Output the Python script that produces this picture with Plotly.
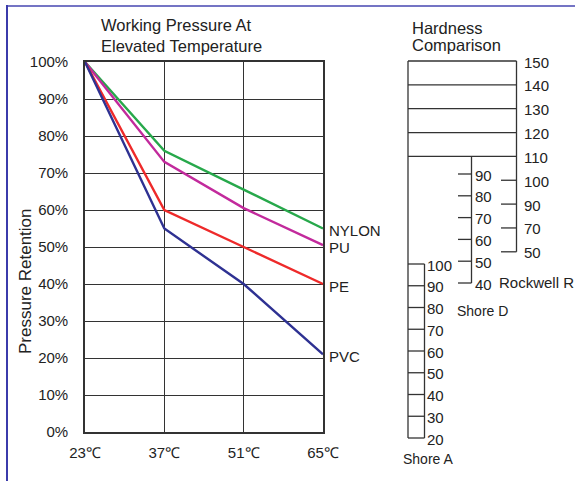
import plotly.graph_objects as go

# ---------------- data ----------------
temps = [23, 37, 51, 65]
temp_labels = ["23℃", "37℃", "51℃", "65℃"]
nylon = [100, 76, 65.5, 55]
pu = [100, 73, 60.5, 50.5]
pe = [100, 60, 50, 40]
pvc = [100, 55, 40, 21]
y_ticks = [0, 10, 20, 30, 40, 50, 60, 70, 80, 90, 100]
y_tick_labels = [f"{v}%" for v in y_ticks]

rockwell_r = [150, 140, 130, 120, 110, 100, 90, 70, 50]
shore_d = [90, 80, 70, 60, 50, 40]
shore_a = [100, 90, 80, 70, 60, 50, 40, 30, 20]

series = [
    ("NYLON", nylon, "#27a84b"),
    ("PU", pu, "#c22a9c"),
    ("PE", pe, "#ee2a2a"),
    ("PVC", pvc, "#2e3192"),
]

W, H = 575, 481
FONT = "Liberation Sans, Arial, sans-serif"
NARROW = "Liberation Sans Narrow, Arial Narrow, Liberation Sans, Arial, sans-serif"
TXT = "#222222"

fig = go.Figure()

for name, vals, col in series:
    fig.add_trace(go.Scatter(x=temps, y=vals, mode="lines", name=name,
                             line=dict(color=col, width=2.4),
                             xaxis="x", yaxis="y", hoverinfo="skip"))

# ---------- hardness comparison diagram (pixel-space axes) ----------
x_left, x_a, x_d, x_rt, x_r0 = 408, 424.5, 471.5, 516.5, 501
d_tick0 = 458
r_y0, r_step = 61, 23.85
d_y0, d_step = 174, 21.8
a_y0, a_step = 264, 21.75

r_pos = [r_y0 + i * r_step for i in range(len(rockwell_r))]
d_pos = [d_y0 + i * d_step for i in range(len(shore_d))]
a_pos = [a_y0 + i * a_step for i in range(len(shore_a))]
box_rows = 5  # rows drawn as full-width boxes (150..110)

lx, ly = [], []
def seg(x0, y0, x1, y1):
    lx.extend([x0, x1, None]); ly.extend([y0, y1, None])

# Rockwell boxes
for yv in r_pos[:box_rows]:
    seg(x_left, yv, x_rt, yv)
seg(x_rt, r_pos[0], x_rt, r_pos[-1])
for yv in r_pos[box_rows:]:
    seg(x_r0, yv, x_rt, yv)
# left outer line down to Shore A bottom
seg(x_left, r_pos[0], x_left, a_pos[-1])
# Shore D
seg(x_d, r_pos[box_rows - 1], x_d, d_pos[-1])
for yv in d_pos:
    seg(d_tick0, yv, x_d, yv)
# Shore A boxes
seg(x_a, a_pos[0], x_a, a_pos[-1])
for yv in a_pos:
    seg(x_left, yv, x_a, yv)

fig.add_trace(go.Scatter(x=lx, y=ly, mode="lines", line=dict(color="#333333", width=1.3),
                         xaxis="x2", yaxis="y2", hoverinfo="skip", showlegend=False))

ann = []
def txt(x, y, s, size=15, xanchor="left", font=FONT, angle=0):
    ann.append(dict(x=x, y=y, xref="x2", yref="y2", text=s, showarrow=False,
                    xanchor=xanchor, yanchor="middle", textangle=angle,
                    font=dict(family=font, size=size, color=TXT)))

for v, yv in zip(rockwell_r, r_pos):
    txt(x_rt + 5, yv + 1, str(v))
for v, yv in zip(shore_d, d_pos):
    txt(x_d + 1, yv + 1, str(v))
for v, yv in zip(shore_a, a_pos):
    txt(x_a + 0.5, yv + 1, str(v))

txt(x_r0 - 4, d_pos[-1] - 1, "Rockwell R", size=15)
txt(482, 311, "Shore D", size=14, xanchor="center", font=NARROW)
txt(428, 459, "Shore A", size=14, xanchor="center", font=NARROW)
txt(410, 27.5, "Hardness", size=16.5)
txt(410, 44.5, "Comparison", size=16.5)

txt(99, 25, "Working Pressure At", size=16.5)
txt(99, 46, "Elevated Temperature", size=16.5)
txt(25, 281, "Pressure Retention", size=17, xanchor="center", angle=-90)

# series labels at line ends
for name, vals, col in series:
    ann.append(dict(x=temps[-1], y=vals[-1], xref="x", yref="y", text=name,
                    showarrow=False, xanchor="left", yanchor="middle",
                    xshift=4, yshift=-2, font=dict(family=FONT, size=15, color=TXT)))

fig.update_layout(
    width=W, height=H,
    margin=dict(l=0, r=0, t=0, b=0, pad=0, autoexpand=False),
    paper_bgcolor="white", plot_bgcolor="rgba(0,0,0,0)",
    showlegend=False,
    annotations=ann,
    shapes=[
        dict(type="line", xref="x2", yref="y2", x0=6, x1=W, y0=6, y1=6,
             line=dict(color="#7474c4", width=2.2), layer="above"),
        dict(type="line", xref="x2", yref="y2", x0=7, x1=7, y0=5, y1=H,
             line=dict(color="#3b3bab", width=2), layer="above"),
    ],
    xaxis=dict(domain=[85 / W, 323 / W], range=[temps[0], temps[-1]],
               tickvals=temps, ticktext=temp_labels, showgrid=True,
               gridcolor="#333333", gridwidth=1.4, showline=True, mirror=True,
               linecolor="#333333", linewidth=1.6, zeroline=False, ticks="",
               ticklabelstandoff=6, anchor="y", automargin=False,
               tickfont=dict(family=FONT, size=15, color=TXT), fixedrange=True),
    yaxis=dict(domain=[1 - 432 / H, 1 - 62 / H], range=[0, 100],
               tickvals=y_ticks, ticktext=y_tick_labels, showgrid=True,
               gridcolor="#333333", gridwidth=1.4, showline=True, mirror=True,
               linecolor="#333333", linewidth=1.6, zeroline=False, ticks="",
               ticklabelstandoff=12, anchor="x", automargin=False,
               tickfont=dict(family=FONT, size=15, color=TXT), fixedrange=True),
    xaxis2=dict(domain=[0, 1], range=[0, W], visible=False, anchor="y2",
                automargin=False, fixedrange=True),
    yaxis2=dict(domain=[0, 1], range=[H, 0], visible=False, anchor="x2",
                automargin=False, fixedrange=True),
)

fig.write_html("out.html",
               config={"displayModeBar": False},
               post_script="document.body.style.margin='0';document.body.style.overflow='hidden';")
